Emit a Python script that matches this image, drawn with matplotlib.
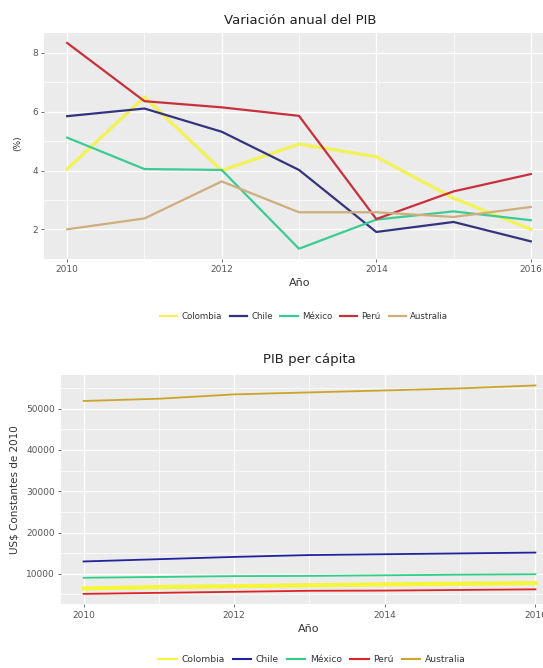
import matplotlib
matplotlib.use("Agg")
import matplotlib.pyplot as plt
from matplotlib.lines import Line2D
from matplotlib.ticker import MultipleLocator

plt.rcParams['font.family'] = ['DejaVu Sans']

years = [2010, 2011, 2012, 2013, 2014, 2015, 2016]
countries = ["Colombia", "Chile", "México", "Perú", "Australia"]

# variacion anual del PIB (%)
pib_colombia = [4.05, 6.5, 4.0, 4.9, 4.47, 3.06, 2.0]
pib_chile = [5.85, 6.11, 5.32, 4.02, 1.91, 2.25, 1.59]
pib_mexico = [5.12, 4.05, 4.02, 1.34, 2.33, 2.61, 2.31]
pib_peru = [8.34, 6.36, 6.15, 5.86, 2.35, 3.29, 3.88]
pib_australia = [2.0, 2.37, 3.63, 2.58, 2.58, 2.42, 2.76]

# PIB per capita (US$ constantes de 2010)
pc_colombia = [6450, 6800, 7000, 7250, 7450, 7600, 7750]
pc_chile = [13000, 13550, 14100, 14550, 14750, 14950, 15150]
pc_mexico = [9050, 9250, 9450, 9500, 9650, 9800, 9900]
pc_peru = [5150, 5400, 5650, 5900, 5950, 6100, 6250]
pc_australia = [51850, 52400, 53450, 53930, 54400, 54900, 55620]

colors_top = ["#F2F25A", "#34347E", "#3CCB94", "#C8303E", "#CDAE7C"]
colors_bot = ["#F5F53A", "#22229E", "#2FD08A", "#DD2424", "#CDA42A"]

W, H = 543, 668
fig = plt.figure(figsize=(W / 100, H / 100), dpi=100)


def style_axes(ax):
    ax.set_facecolor("#EBEBEB")
    for s in ax.spines.values():
        s.set_visible(False)
    ax.grid(which="major", color="white", lw=1.0)
    ax.grid(which="minor", color="white", lw=0.5)
    ax.set_axisbelow(True)
    ax.tick_params(which="major", length=2.5, width=0.6, color="#555555",
                   labelcolor="#555555", labelsize=6.5, pad=2)
    ax.tick_params(which="minor", length=0)
    ax.xaxis.set_major_locator(MultipleLocator(2))
    ax.xaxis.set_minor_locator(MultipleLocator(1))
    ax.margins(x=0.05, y=0.05)


# grafico 1
ax1 = fig.add_axes([44 / W, 1 - 259 / H, 510 / W, 226.3 / H])
style_axes(ax1)
series_top = [pib_colombia, pib_chile, pib_mexico, pib_peru, pib_australia]
for vals, c, name in zip(series_top, colors_top, countries):
    ax1.plot(years, vals, color=c, lw=2.4 if name == "Colombia" else 1.6,
             label=name)
ax1.yaxis.set_major_locator(MultipleLocator(2))
ax1.yaxis.set_minor_locator(MultipleLocator(1))
fig.text(300 / W, 1 - 20 / H, "Variación anual del PIB", ha="center",
         va="center", fontsize=9.5, color="#222222")
fig.text(300 / W, 1 - 283 / H, "Año", ha="center", va="center",
         fontsize=8, color="#333333")
fig.text(18 / W, 1 - 143 / H, "(%)", ha="center", va="center",
         fontsize=6.5, rotation=90, color="#333333")
h1 = [Line2D([], [], color=c, lw=1.6) for c in colors_top]
fig.legend(h1, countries, loc="center", ncol=5, frameon=False,
           bbox_to_anchor=(304 / W, 1 - 316.5 / H), fontsize=6.2,
           labelcolor="#333333", handlelength=2.0, handletextpad=0.5,
           columnspacing=0.9)

# grafico 2
ax2 = fig.add_axes([61 / W, 1 - 604.3 / H, 497 / W, 229.3 / H])
style_axes(ax2)
series_bot = [pc_colombia, pc_chile, pc_mexico, pc_peru, pc_australia]
for vals, c, name in zip(series_bot, colors_bot, countries):
    ax2.plot(years, vals, color=c, lw=3.0 if name == "Colombia" else 1.3,
             label=name)
ax2.yaxis.set_major_locator(MultipleLocator(10000))
ax2.yaxis.set_minor_locator(MultipleLocator(5000))
fig.text(309 / W, 1 - 360 / H, "PIB per cápita", ha="center", va="center",
         fontsize=9.5, color="#222222")
fig.text(309 / W, 1 - 629 / H, "Año", ha="center", va="center",
         fontsize=8, color="#333333")
fig.text(15 / W, 1 - 490 / H, "US$ Constantes de 2010", ha="center",
         va="center", fontsize=7.5, rotation=90, color="#333333")
h2 = [Line2D([], [], color=c, lw=1.5) for c in colors_bot]
fig.legend(h2, countries, loc="center", ncol=5, frameon=False,
           bbox_to_anchor=(312 / W, 1 - 660 / H), fontsize=6.6,
           labelcolor="#333333", handlelength=2.0, handletextpad=0.5,
           columnspacing=0.9)

fig.savefig("out.png", dpi=100)
